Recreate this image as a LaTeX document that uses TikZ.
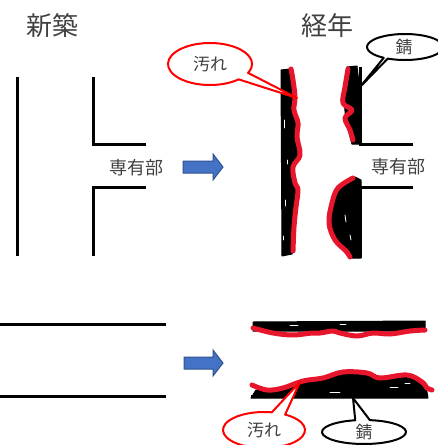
\documentclass[tikz,border=0pt]{standalone}
\usepackage{fontspec}
\usetikzlibrary{calc}
\newfontfamily\jp{Noto Sans CJK JP}
\definecolor{textgray}{RGB}{64,64,64}
\definecolor{arrowblue}{RGB}{68,114,196}
\definecolor{arrowedge}{RGB}{47,82,143}
\definecolor{paintred}{RGB}{232,22,44}
\begin{document}
\begin{tikzpicture}[x=1pt,y=-1pt,
  wall/.style={line width=3pt, line join=miter},
  title/.style={font=\jp\fontsize{26}{26}\selectfont, text=textgray, inner sep=0},
  label/.style={font=\jp\fontsize{18}{18}\selectfont, text=textgray, inner sep=0},
  calltext/.style={font=\jp\fontsize{17}{17}\selectfont, text=textgray, inner sep=0},
  bigarrow/.style={fill=arrowblue, draw=arrowedge, line width=1pt},
  rust/.style={fill=black, draw=black, line width=1pt, line join=round},
  dirt/.style={draw=paintred, line width=5pt, line cap=round, line join=round},
  callred/.style={draw=red, line width=2pt, fill=white, line join=round},
  callblack/.style={draw=black, line width=2pt, fill=white, line join=round},
  speck/.style={draw=white, line width=0.8pt, line cap=round}]
\useasboundingbox (0,0) rectangle (437,445);

% ---- titles ----
\node[title] (new) at (53,26) {新築};
\node[title] (old) at (327,26) {経年};

% ---- new building, plan view ----
\draw[wall] (17,77) -- (17,256);
\draw[wall] (93,77) -- (93,144) -- (146,144);
\draw[wall] (146,187) -- (93,187) -- (93,256);
\node[label] (unitA) at (136,168) {専有部};

% ---- new building, section ----
\draw[wall] (0,324) -- (166,324);
\draw[wall] (0,396) -- (166,396);

% ---- arrows ----
\draw[bigarrow] (183,161) -- (213,161) -- (213,154) -- (223,167) -- (213,180) -- (213,173) -- (183,173) -- cycle;
\draw[bigarrow] (184,357) -- (213,357) -- (213,350) -- (223,363) -- (213,376) -- (213,369) -- (184,369) -- cycle;

% ---- aged building, plan view ----
% left wall covered in rust
\fill[rust] (281,70) -- plot[smooth, tension=0.6] coordinates {(290,69) (292,80) (294,97) (293,110) (297,123) (296,137) (299,155) (292,167) (294,183) (297,190) (295,207) (293,227) (292,254)} -- (282,256) -- cycle;
\draw[speck] (284,120) -- (284,128) (285,200) -- (285,206) (283,236) -- (283,240) (287,160) -- (287,164);
\draw[dirt] plot[smooth, tension=0.6] coordinates {(291,69) (293,80) (295,97) (294,110) (298,123) (297,137) (300,155) (293,167) (295,183) (298,190) (296,207) (294,227) (293,251)};

% upper wall segment
\fill[rust] (347,67) -- (357,66) -- (361,100) -- (361,144) -- (352,144) -- (346,122) -- (344,100) -- (345,80) -- cycle;
\draw[wall] (360,67) -- (360,144) -- (413,144);
\draw[dirt] plot[smooth, tension=0.6] coordinates {(348,69) (345,87) (343,103) (352,110) (345,118) (350,130) (353,140)};

% lower wall segment
\fill[rust] (355,177) -- (361,180) -- (361,258) -- (350,258) -- (338,245) -- (331,225) -- (333,203) -- (340,188) -- cycle;
\draw[wall] (413,187) -- (360,187) -- (360,258);
\draw[speck] (345,215) -- (346,222) (350,235) -- (351,240);
\draw[dirt] plot[smooth, tension=0.6] coordinates {(353,178) (338,188) (332,203) (329,223) (335,240) (346,251) (350,257)};

\node[label] (unitB) at (398,167) {専有部};

% ---- aged building, section ----
\fill[rust] (253,322) -- (425,321) -- (425,331) -- (253,331) -- cycle;
\draw[speck] (290,325) -- (298,325) (340,324) -- (346,324);
\draw[dirt] plot[smooth, tension=0.6] coordinates {(253,328) (273,333) (293,335) (312,333) (320,333) (333,331) (340,333) (357,336) (373,333) (390,334) (410,331) (425,330)};

\fill[rust] (251,398) -- plot[smooth, tension=0.6] coordinates {(256,390) (283,390) (303,383) (323,380) (343,374) (367,375) (380,380) (407,377) (422,384) (427,392)} -- (428,398) -- cycle;
\draw[line width=3pt] (251,396) -- (428,396);
\draw[speck] (330,392) -- (340,392) (390,387) -- (398,387) (405,383) -- (410,383);
\draw[dirt] plot[smooth, tension=0.6] coordinates {(252,385) (267,390) (283,388) (303,381) (323,378) (343,372) (367,373) (380,378) (407,375) (422,382) (427,388) (432,390)};

% ---- callouts ----
\draw[callred] (297,98) -- ($(210,64)+(47:42 and 21)$) arc[start angle=47, end angle=385, x radius=42, y radius=21] -- cycle;
\node[calltext] (dirtA) at (210,64) {汚れ};

\draw[callblack] (360,87) -- ($(405,47)+(124:38 and 13)$) arc[start angle=124, end angle=477, x radius=38, y radius=13] -- cycle;
\node[calltext] (rustA) at (404,47) {錆};

\draw[callred] (300,382) -- ($(264,430)+(-59:41 and 18)$) arc[start angle=-59, end angle=281, x radius=41, y radius=18] -- cycle;
\node[calltext] (dirtB) at (264,430) {汚れ};

\draw[callblack] (353,398) -- ($(364,432)+(-82:42 and 12)$) arc[start angle=-82, end angle=258, x radius=42, y radius=12] -- cycle;
\node[calltext] (rustB) at (364,432) {錆};
\end{tikzpicture}
\end{document}
